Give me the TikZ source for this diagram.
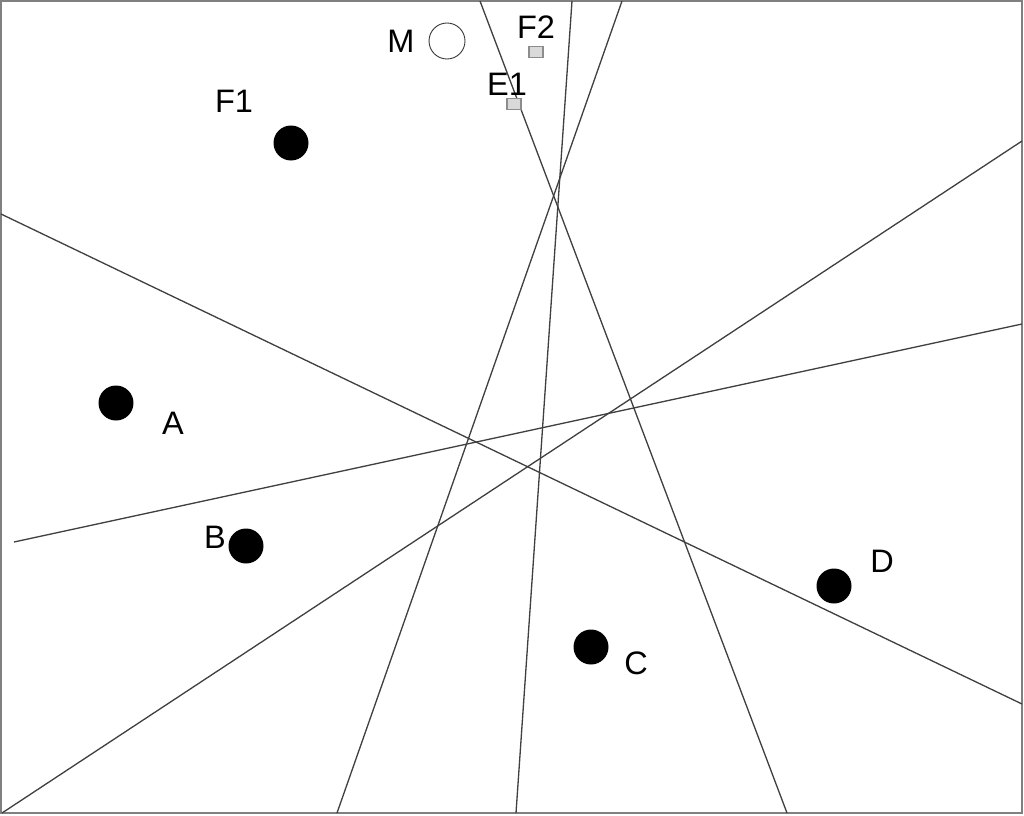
\documentclass[tikz,border=0pt]{standalone}
\usepackage{fontspec}
\setmainfont{Liberation Sans}
\usetikzlibrary{positioning}

\begin{document}
\begin{tikzpicture}[
        x=0.02cm, y=-0.02cm,
        punto/.style={circle, fill=black, inner sep=0pt, minimum size=0.7cm},
        hueco/.style={circle, draw=black!80, line width=0.5pt, inner sep=0pt, minimum size=0.72cm},
        marca/.style={rectangle, draw=black!45, fill=black!15, line width=0.6pt, inner sep=0pt, minimum width=0.28cm, minimum height=0.22cm},
        etiqueta/.style={inner sep=0pt, font=\fontsize{18.5}{22}\selectfont},
        recta/.style={draw=black!75, line width=0.75pt},
        marco/.style={draw=black!50, line width=1pt}
    ]
        \useasboundingbox (0,0) rectangle (1024,815);
        \draw[marco] (1,1) rectangle (1022,813);

        % rectas
        \draw[recta] (1,214) -- (1022,704);
        \draw[recta] (480,1) -- (787,813);
        \draw[recta] (572,1) -- (516,813);
        \draw[recta] (622,1) -- (337,813);
        \draw[recta] (1022,141) -- (2,813);
        \draw[recta] (14,542) -- (1022,324);

        % puntos
        \node[hueco] (M) at (447,41) {};
        \node[etiqueta] (lM) at (401,41) {M};
        \node[marca] (F2) at (536,52) {};
        \node[etiqueta] (lF2) at (536,27) {F2};
        \node[marca] (E1) at (514,104) {};
        \node[etiqueta] (lE1) at (507,84) {E1};
        \node[punto] (F1) at (291,143) {};
        \node[etiqueta] (lF1) at (234,101) {F1};
        \node[punto] (A) at (116,403) {};
        \node[etiqueta] (lA) at (173,423) {A};
        \node[punto] (B) at (246,546) {};
        \node[etiqueta] (lB) at (215,537) {B};
        \node[punto] (C) at (591,647) {};
        \node[etiqueta] (lC) at (636,663) {C};
        \node[punto] (D) at (834,586) {};
        \node[etiqueta] (lD) at (882,561) {D};
    \end{tikzpicture}
\end{document}
